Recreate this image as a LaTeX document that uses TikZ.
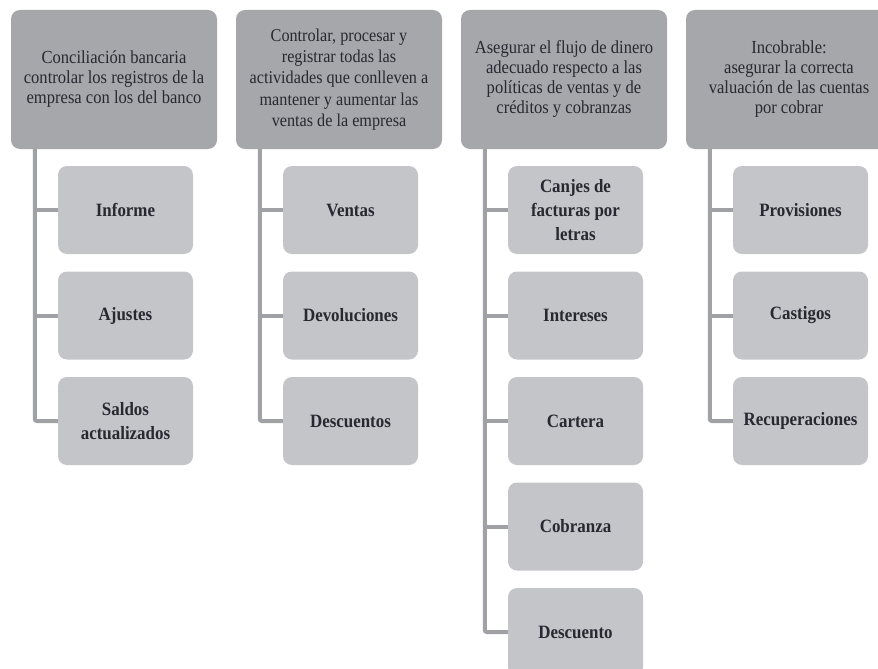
\documentclass[tikz,border=0pt]{standalone}
\usepackage{fontspec}
\setmainfont{Liberation Serif}
\newfontfamily\narrowserif[FakeStretch=0.9]{Liberation Serif}
\definecolor{hdrgray}{RGB}{166,167,171}
\definecolor{kidgray}{RGB}{196,197,201}
\definecolor{linegray}{RGB}{160,161,165}
\definecolor{ink}{RGB}{40,40,48}
\begin{document}
\begin{tikzpicture}[x=1pt,y=-1pt,
  hdr/.style={fill=hdrgray, rounded corners=9pt, minimum width=206pt,
    minimum height=139pt, inner sep=0pt, align=center, text=ink,
    font=\narrowserif\fontsize{18.4}{20}\selectfont},
  kid/.style={fill=kidgray, rounded corners=9pt, minimum width=135pt,
    minimum height=88pt, inner sep=0pt, align=center, text=ink,
    font=\narrowserif\fontsize{18.8}{24}\selectfont\bfseries},
  conn/.style={draw=linegray, line width=4pt}]
\useasboundingbox (0,0) rectangle (878,669);
\clip (0,0) rectangle (878,669);

% column headers
\node[hdr] (h1) at (114,79.5) {Conciliación bancaria\\controlar los registros de la\\empresa con los del banco};
\node[hdr, font=\narrowserif\fontsize{18}{21.3}\selectfont] (h2) at (339,79.5) {Controlar, procesar y\\registrar todas las\\actividades que conlleven a\\mantener y aumentar las\\ventas de la empresa};
\node[hdr] (h3) at (564,79.5) {Asegurar el flujo de dinero\\adecuado respecto a las\\políticas de ventas y de\\créditos y cobranzas};
\node[hdr] (h4) at (789,79.5) {Incobrable:\\asegurar la correcta\\valuación de las cuentas\\por cobrar};

% items of each column
\node[kid] (c11) at (125.5,210) {Informe};
\node[kid] (c12) at (125.5,315.5) {Ajustes};
\node[kid] (c13) at (125.5,421) {Saldos\\actualizados};

\node[kid] (c21) at (350.5,210) {Ventas};
\node[kid] (c22) at (350.5,315.5) {Devoluciones};
\node[kid] (c23) at (350.5,421) {Descuentos};

\node[kid] (c31) at (575.5,210) {Canjes de\\facturas por\\letras};
\node[kid] (c32) at (575.5,315.5) {Intereses};
\node[kid] (c33) at (575.5,421) {Cartera};
\node[kid] (c34) at (575.5,526.5) {Cobranza};
\node[kid] (c35) at (575.5,632) {Descuento};

\node[kid] (c41) at (800.5,210) {Provisiones};
\node[kid] (c42) at (800.5,315.5) {Castigos};
\node[kid] (c43) at (800.5,421) {Recuperaciones};

% spines hanging from the headers
\coordinate (s1) at ([xshift=24pt]h1.south west);
\coordinate (s2) at ([xshift=24pt]h2.south west);
\coordinate (s3) at ([xshift=24pt]h3.south west);
\coordinate (s4) at ([xshift=24pt]h4.south west);

\draw[conn, rounded corners=2pt] (s1) |- (c13.west);
\draw[conn] (s1 |- c11.west) -- (c11.west);
\draw[conn] (s1 |- c12.west) -- (c12.west);

\draw[conn, rounded corners=2pt] (s2) |- (c23.west);
\draw[conn] (s2 |- c21.west) -- (c21.west);
\draw[conn] (s2 |- c22.west) -- (c22.west);

\draw[conn, rounded corners=2pt] (s3) |- (c35.west);
\draw[conn] (s3 |- c31.west) -- (c31.west);
\draw[conn] (s3 |- c32.west) -- (c32.west);
\draw[conn] (s3 |- c33.west) -- (c33.west);
\draw[conn] (s3 |- c34.west) -- (c34.west);

\draw[conn, rounded corners=2pt] (s4) |- (c43.west);
\draw[conn] (s4 |- c41.west) -- (c41.west);
\draw[conn] (s4 |- c42.west) -- (c42.west);
\end{tikzpicture}
\end{document}
